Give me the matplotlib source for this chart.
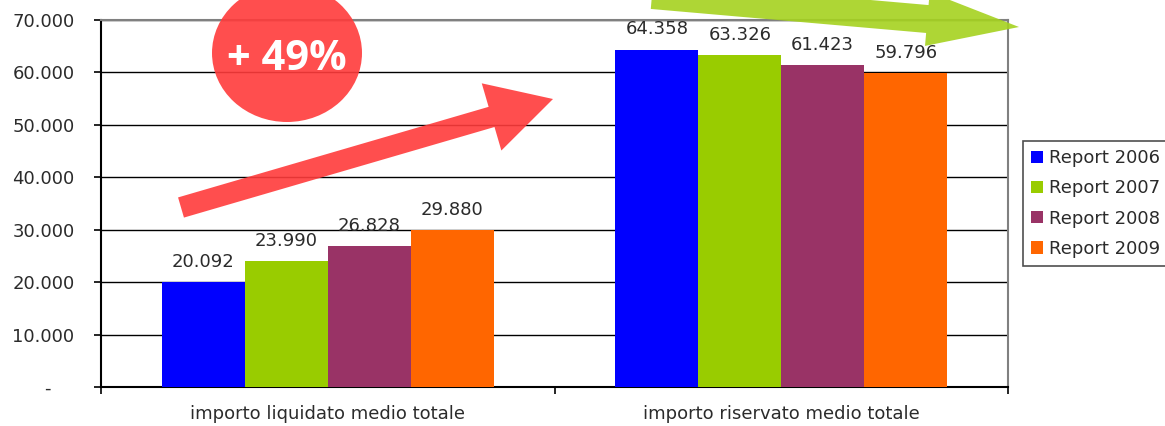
import matplotlib.pyplot as plt
import matplotlib.patches as mpatches
from matplotlib.transforms import IdentityTransform
import numpy as np

# dati del grafico
categorie = ['importo liquidato medio totale', 'importo riservato medio totale']
serie = ['Report 2006', 'Report 2007', 'Report 2008', 'Report 2009']
valori_2006 = [20092, 64358]
valori_2007 = [23990, 63326]
valori_2008 = [26828, 61423]
valori_2009 = [29880, 59796]
colori = ['#0000FF', '#99CC00', '#993366', '#FF6600']
yticks = [0, 10000, 20000, 30000, 40000, 50000, 60000, 70000]
crescita = '+ 49%'

W, H = 1165, 426
plt.rcParams['font.family'] = ['DejaVu Sans']
testo = '#2b2b2b'


def fmt_it(v):
    # separatore migliaia col punto, zero come trattino
    if v == 0:
        return '-    '
    return f'{int(round(v)):,}'.replace(',', '.')


fig = plt.figure(figsize=(W / 100, H / 100), dpi=100)
ax = fig.add_axes([101 / W, 39 / H, 907 / W, 367 / H])

x = np.arange(len(categorie))
larg = 0.183
tutti = [valori_2006, valori_2007, valori_2008, valori_2009]
for i, (vals, nome, col) in enumerate(zip(tutti, serie, colori)):
    off = (i - 1.5) * larg
    b = ax.bar(x + off, vals, larg, color=col, label=nome, zorder=3, linewidth=0)
    ax.bar_label(b, labels=[fmt_it(v) for v in vals], padding=8,
                 fontsize=13, color=testo, zorder=4)

ax.set_xlim(-0.5, 1.5)
ax.set_ylim(0, 70000)
ax.set_yticks(yticks)
ax.set_yticklabels([fmt_it(v) for v in yticks])
ax.tick_params(axis='y', length=5, width=1.2, pad=14, labelsize=13,
               labelcolor=testo, color='black')

# tacche tra le categorie, etichette al centro
ax.set_xticks([-0.5, 0.5, 1.5])
ax.set_xticklabels(['', '', ''])
ax.set_xticks(x, minor=True)
ax.set_xticklabels(categorie, minor=True)
ax.tick_params(axis='x', which='major', length=5, width=1.2, color='black')
ax.tick_params(axis='x', which='minor', length=0, pad=13, labelsize=13,
               labelcolor=testo)

ax.yaxis.grid(True, color='black', linewidth=1.0, zorder=0)
ax.set_axisbelow(True)
for lato in ['top', 'right']:
    ax.spines[lato].set_color('#808080')
    ax.spines[lato].set_linewidth(1.5)
for lato in ['left', 'bottom']:
    ax.spines[lato].set_color('black')
    ax.spines[lato].set_linewidth(1.5)

leg = fig.legend(loc='upper left', bbox_to_anchor=(1023 / W, 1 - 141 / H),
                 fontsize=13, frameon=True, fancybox=False, handlelength=0.67,
                 handleheight=0.67, handletextpad=0.3, labelspacing=0.68,
                 borderpad=0.45, borderaxespad=0)
leg.get_frame().set_edgecolor('#222222')
leg.get_frame().set_linewidth(1.2)
for t in leg.get_texts():
    t.set_color(testo)

# frecce e cerchio disegnati in pixel
px = IdentityTransform()


def freccia(x0, y0, x1, y1, corpo, testa_w, testa_l, col, alpha):
    a = mpatches.FancyArrow(x0, H - y0, x1 - x0, -(y1 - y0), width=corpo,
                            head_width=testa_w, head_length=testa_l,
                            length_includes_head=True, transform=px,
                            color=col, alpha=alpha, linewidth=0, zorder=6)
    fig.add_artist(a)


freccia(181, 207.5, 553, 99, 21, 70, 64, '#FF3B3B', 0.9)
freccia(652, -5, 1019, 27, 28, 54, 92, '#A5D21F', 0.9)

cerchio = mpatches.Ellipse((287, H - 53), 150, 138, transform=px,
                           color='#FF3B3B', alpha=0.9, linewidth=0, zorder=6)
fig.add_artist(cerchio)
fig.text(287 / W, (H - 70) / H, crescita, ha='center', va='baseline',
         fontsize=30, fontweight='bold', color='white',
         family=['Open Sans', 'DejaVu Sans'], zorder=7)

fig.savefig('out.png', dpi=100)
